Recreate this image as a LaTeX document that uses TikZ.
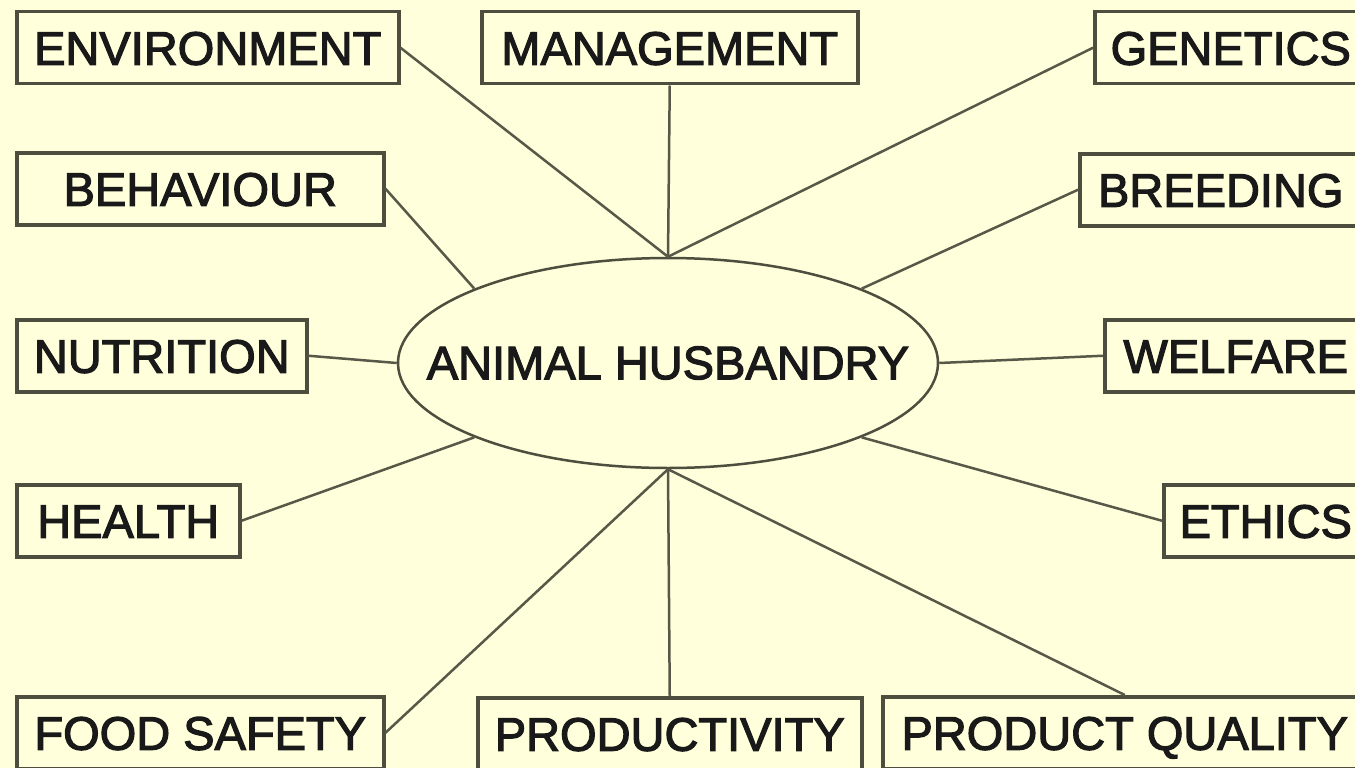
\documentclass[tikz,border=0pt]{standalone}
\usepackage{fontspec}
\setmainfont{Liberation Sans}
\newfontfamily\topicfont{Liberation Sans}[FakeBold=2.5]
\usetikzlibrary{shapes.geometric}
\definecolor{paper}{RGB}{255,255,220}
\definecolor{edgecol}{RGB}{78,78,62}
\definecolor{wirecol}{RGB}{88,88,72}

\begin{document}
\begin{tikzpicture}[x=1pt,y=-1pt,
        topic/.style={draw=edgecol,line width=3.5pt,anchor=north west,inner sep=0pt,
            minimum height=72pt,text height=34pt,text depth=0pt,text=black!90,
            font=\topicfont\fontsize{47}{56}\selectfont},
        wire/.style={draw=wirecol,line width=2.5pt}]
    \fill[paper] (0,0) rectangle (1355,768);
    \useasboundingbox (0,0) rectangle (1355,768);
    % centre
    \node[ellipse,draw=edgecol,line width=2.5pt,inner sep=0pt,minimum width=540pt,
        minimum height=210pt,text=black!90,font=\topicfont\fontsize{47}{56}\selectfont]
        (hub) at (668,363) {\makebox[0pt]{ANIMAL HUSBANDRY}};
    % topics round it
    \foreach \n/\x/\y/\w/\t in {env/15/10/382/ENVIRONMENT, mgmt/480/10/376/MANAGEMENT,
            gen/1093/10/272/GENETICS, behav/15/151/367/BEHAVIOUR, breed/1078/152/282/BREEDING,
            nutr/15/318/290/NUTRITION, welf/1103/318/262/WELFARE, health/15/483/223/HEALTH,
            ethics/1162/483/204/ETHICS, food/15/695/367/FOOD SAFETY,
            prod/476/696/384/PRODUCTIVITY, qual/881/695/484/PRODUCT QUALITY}{
        \node[topic,minimum width=\w pt] (\n) at (\x,\y) {\t};
    }
    \foreach \a/\b in {env.east/hub.north, mgmt.south/hub.north, gen.west/hub.north,
            behav.east/hub.159, breed.west/hub.21, nutr.east/hub.west, welf.west/hub.east,
            health.east/hub.201, ethics.west/hub.-21, food.east/hub.south,
            prod.north/hub.south, qual.north/hub.south}{
        \draw[wire] (\a) -- (\b);
    }
\end{tikzpicture}
\end{document}
